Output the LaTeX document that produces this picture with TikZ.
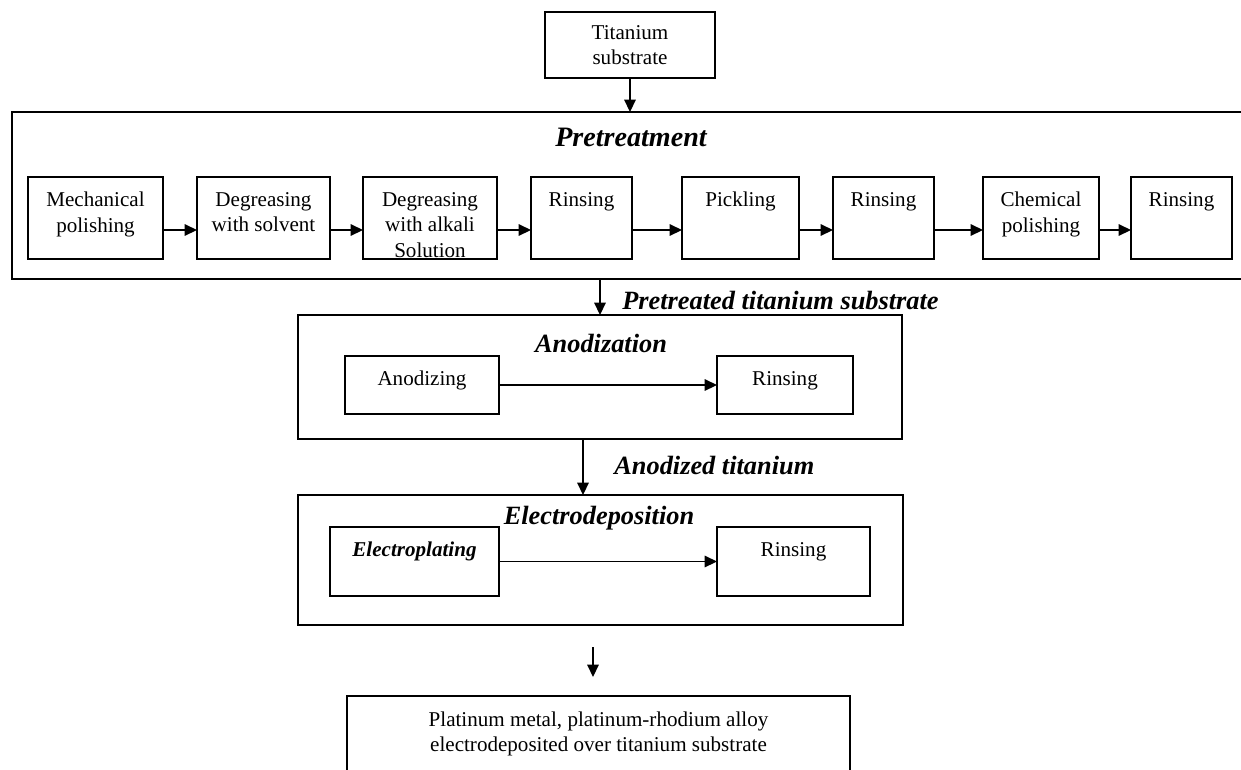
\documentclass[tikz,border=0pt]{standalone}
\usepackage{fontspec}
\setmainfont{Liberation Serif}
\usetikzlibrary{arrows.meta}

\tikzset{
  box/.style={draw, line width=0.8pt, inner sep=0pt, outer sep=0pt},
  frame/.style={draw, line width=1pt, inner sep=0pt, outer sep=0pt},
  boxtext/.style={anchor=north, yshift=-0.3cm, align=center, inner sep=0pt,
    font=\fontsize{12}{14.5}\selectfont},
  head/.style={inner sep=0pt, font=\fontsize{15}{18}\selectfont\bfseries\itshape},
  arr/.style={line width=0.8pt, -{Triangle[length=7pt,width=6.5pt]}},
}

\begin{document}
\begin{tikzpicture}[x=0.02cm, y=-0.02cm]
      \useasboundingbox (0,0) rectangle (1241,769);
      \clip (0,0) rectangle (1241,769);

      % start
      \node[box, align=center, minimum width=3.40cm, minimum height=1.32cm,
        font=\fontsize{12}{14.5}\selectfont] (ts) at (630,45) {Titanium\\substrate};

      % pretreatment
      \node[frame, minimum width=24.96cm, minimum height=3.34cm] (pt) at (636,195.5) {};
      \node[head, font=\fontsize{16}{19}\selectfont\bfseries\itshape] (pth) at (631,137) {Pretreatment};

      \node[box, minimum width=2.70cm, minimum height=1.64cm,
        label={[boxtext]north:Mechanical\\polishing}] (p1) at ( 95.5,218) {};
      \node[box, minimum width=2.66cm, minimum height=1.64cm,
        label={[boxtext]north:Degreasing\\with solvent}] (p2) at ( 263.5,218) {};
      \node[box, minimum width=2.68cm, minimum height=1.64cm,
        label={[boxtext]north:Degreasing\\with alkali\\Solution}] (p3) at ( 430,218) {};
      \node[box, minimum width=2.02cm, minimum height=1.64cm,
        label={[boxtext]north:Rinsing}] (p4) at ( 581.5,218) {};
      \node[box, minimum width=2.34cm, minimum height=1.64cm,
        label={[boxtext]north:Pickling}] (p5) at ( 740.5,218) {};
      \node[box, minimum width=2.02cm, minimum height=1.64cm,
        label={[boxtext]north:Rinsing}] (p6) at ( 883.5,218) {};
      \node[box, minimum width=2.32cm, minimum height=1.64cm,
        label={[boxtext]north:Chemical\\polishing}] (p7) at (1041,218) {};
      \node[box, minimum width=2.02cm, minimum height=1.64cm,
        label={[boxtext]north:Rinsing}] (p8) at (1181.5,218) {};

      \foreach \a/\b in {p1/p2,p2/p3,p3/p4,p4/p5,p5/p6,p6/p7,p7/p8}
        \draw[arr] ([yshift=-0.24cm]\a.east) -- ([yshift=-0.24cm]\b.west);

      % anodization
      \node[frame, minimum width=12.08cm, minimum height=2.48cm] (an) at (600,377) {};
      \node[head] (anh) at (601,343) {Anodization};
      \node[box, minimum width=3.08cm, minimum height=1.16cm,
        label={[boxtext]north:Anodizing}] (a1) at (422,385) {};
      \node[box, minimum width=2.72cm, minimum height=1.16cm,
        label={[boxtext]north:Rinsing}] (a2) at (785,385) {};
      \draw[arr] (a1.east) -- (a2.west);

      % electrodeposition
      \node[frame, minimum width=12.10cm, minimum height=2.60cm] (el) at (600.5,560) {};
      \node[head] (elh) at (599,518) {Electrodeposition};
      \node[box, minimum width=3.38cm, minimum height=1.38cm,
        label={[boxtext, font=\fontsize{12}{14.5}\selectfont\bfseries\itshape]north:Electroplating}] (e1) at (414.5,561.5) {};
      \node[box, minimum width=3.06cm, minimum height=1.38cm,
        label={[boxtext]north:Rinsing}] (e2) at (793.5,561.5) {};
      \draw[arr] (e1.east) -- (e2.west);

      % result
      \node[box, minimum width=10.06cm, minimum height=2.08cm,
        label={[boxtext]north:{Platinum metal, platinum-rhodium alloy\\electrodeposited over titanium substrate}}] (res) at (598.5,748) {};

      % flow between stages
      \draw[arr] (ts.south) -- (ts.south |- pt.north);
      \draw[arr] (an.north |- pt.south) -- (an.north);
      \node[head, anchor=west] (ptl) at (622,300) {Pretreated titanium substrate};
      \draw[arr] ([xshift=-0.34cm]an.south) -- ([xshift=-0.34cm]an.south |- el.north);
      \node[head, anchor=west] (anl) at (614,465) {Anodized titanium};
      \coordinate (f1) at (593,647);
      \coordinate (f2) at (593,677);
      \draw[arr] (f1) -- (f2);
    \end{tikzpicture}
\end{document}
